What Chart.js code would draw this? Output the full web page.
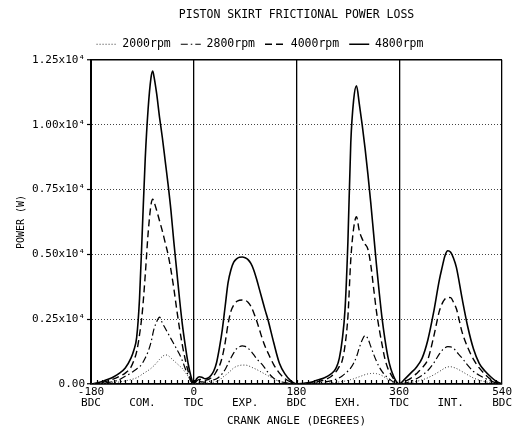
<!DOCTYPE html>
<html>
<head>
<meta charset="utf-8">
<script src="https://cdn.jsdelivr.net/npm/chart.js@4.4.1/dist/chart.umd.min.js"></script>
<style>
  body { margin: 0; background: #fff; }
  canvas { display: block; }
</style>
</head>
<body>
<canvas id="frictionChart" width="515" height="430"></canvas>
<script>
// crank angle (deg) and skirt power loss (W) per engine speed
const angles = [
  -180, -170, -160, -150, -140, -130, -120, -110, -105, -100, -95, -90, -85, -80, -75, -72, -70, -65, -60, -55, -50, -45, -40, -35, -30, -25, -20, -15, -10, -5,
  0, 5, 10, 15, 20, 25, 30, 35, 40, 45, 50, 55, 60, 65, 70, 75, 80, 85, 90, 95, 100, 105, 110, 115, 120, 125, 130, 140, 150, 160, 170,
  180, 190, 200, 210, 220, 230, 240, 245, 250, 255, 260, 265, 270, 275, 280, 285, 290, 295, 300, 305, 310, 315, 320, 325, 330, 335, 340, 345, 350, 355,
  360, 370, 380, 390, 400, 410, 420, 430, 435, 440, 445, 450, 455, 460, 470, 480, 490, 500, 510, 520, 530, 540
];

const loss2000 = [
  0, 5, 15, 30, 50, 80, 120, 170, 200, 240, 300, 380, 450, 520, 600, 660, 700, 820, 950, 1060, 1120, 1100, 1000, 900, 800, 700, 600, 450, 300, 120,
  0, 30, 40, 35, 30, 40, 50, 70, 100, 150, 250, 330, 420, 520, 620, 680, 715, 730, 730, 710, 660, 610, 560, 500, 440, 380, 320, 200, 100, 45, 15,
  0, 2, 5, 10, 20, 30, 45, 55, 65, 80, 95, 115, 140, 170, 200, 240, 280, 320, 360, 390, 405, 410, 400, 370, 320, 250, 180, 110, 60, 20,
  0, 20, 50, 100, 160, 240, 350, 480, 550, 620, 660, 665, 640, 600, 480, 350, 230, 150, 90, 50, 20, 0
];

const loss2800 = [
  0, 10, 30, 60, 100, 170, 300, 420, 500, 580, 660, 800, 1000, 1250, 1600, 1900, 2100, 2400, 2580, 2350, 2150, 1950, 1750, 1550, 1350, 1150, 900, 600, 350, 100,
  0, 60, 90, 80, 70, 90, 120, 160, 200, 280, 400, 560, 780, 1000, 1200, 1360, 1440, 1470, 1450, 1380, 1270, 1130, 980, 860, 750, 600, 450, 220, 110, 50, 20,
  0, 5, 15, 30, 50, 80, 120, 150, 190, 240, 310, 400, 500, 620, 800, 1050, 1400, 1700, 1870, 1750, 1450, 1150, 880, 650, 480, 340, 240, 150, 80, 30,
  0, 40, 100, 200, 340, 520, 800, 1150, 1300, 1400, 1440, 1430, 1380, 1250, 1000, 720, 480, 340, 220, 120, 40, 0
];

const loss4000 = [
  0, 20, 60, 120, 200, 300, 420, 650, 900, 1250, 1900, 2800, 4200, 5800, 6900, 7130, 7050, 6700, 6300, 5900, 5450, 5000, 4400, 3700, 2900, 2150, 1500, 950, 500, 150,
  0, 120, 180, 160, 140, 170, 230, 320, 500, 700, 1050, 1600, 2300, 2800, 3050, 3180, 3230, 3240, 3230, 3150, 3000, 2750, 2450, 2100, 1750, 1450, 1200, 750, 420, 200, 70,
  0, 10, 30, 60, 100, 170, 280, 380, 500, 680, 900, 1500, 2600, 4800, 6000, 6450, 5900, 5600, 5400, 5200, 4600, 3700, 2800, 2100, 1500, 950, 600, 380, 200, 60,
  0, 100, 220, 400, 620, 950, 1800, 2800, 3100, 3280, 3340, 3330, 3150, 2900, 2000, 1400, 950, 620, 380, 180, 60, 0
];

const loss4800 = [
  0, 40, 100, 180, 280, 420, 620, 1000, 1300, 1800, 3300, 6000, 8700, 10600, 11800, 12075, 11900, 11200, 10300, 9500, 8600, 7700, 6700, 5500, 4400, 3300, 2300, 1500, 800, 300,
  0, 200, 280, 250, 200, 230, 330, 500, 830, 1400, 2100, 3000, 3900, 4400, 4700, 4830, 4890, 4900, 4870, 4800, 4650, 4400, 4050, 3650, 3250, 2850, 2480, 1600, 800, 380, 120,
  0, 20, 50, 100, 170, 250, 380, 480, 650, 1000, 1700, 2900, 5500, 9300, 10950, 11500, 10800, 10000, 9100, 8100, 7000, 5800, 4600, 3500, 2500, 1700, 1050, 600, 300, 90,
  0, 200, 420, 650, 1000, 1700, 2750, 4000, 4500, 4950, 5140, 5080, 4850, 4500, 3300, 2200, 1350, 800, 500, 280, 100, 0
];

const seriesNames = ['2000rpm', '2800rpm', '4000rpm', '4800rpm'];

const tickAngles = [-180, -90, 0, 90, 180, 270, 360, 450, 540];
const tickNumbers = ['-180', '', '0', '', '180', '', '360', '', '540'];
const tickNames = ['BDC', 'COM.', 'TDC', 'EXP.', 'BDC', 'EXH.', 'TDC', 'INT.', 'BDC'];
const strokeLines = [0, 180, 360, 540];

const chartTitle = 'PISTON SKIRT FRICTIONAL POWER LOSS';
const minorStep = 10;
const yMax = 12500;

const FONT = '"DejaVu Sans Mono", monospace';

function toPoints(values) {
    return angles.map((a, i) => ({ x: a, y: values[i] }));
}

const titlePlugin = {
    id: 'plotTitle',
    afterDraw(chart) {
        const { ctx, chartArea } = chart;
        ctx.save();
        ctx.font = '11.5px ' + FONT;
        ctx.fillStyle = '#000';
        ctx.textAlign = 'center';
        ctx.textBaseline = 'middle';
        ctx.fillText(chartTitle, (chartArea.left + chartArea.right) / 2, 15);
        ctx.restore();
    }
};

// small inward ticks along the zero line
const minorTicks = {
    id: 'minorTicks',
    afterDatasetsDraw(chart) {
        const { ctx, chartArea } = chart;
        const xs = chart.scales.x;
        ctx.save();
        ctx.strokeStyle = '#000';
        ctx.lineWidth = 1.2;
        ctx.beginPath();
        for (let a = xs.min + minorStep; a < xs.max; a += minorStep) {
            const px = Math.round(xs.getPixelForValue(a)) + 0.5;
            ctx.moveTo(px, chartArea.bottom);
            ctx.lineTo(px, chartArea.bottom - 4);
        }
        ctx.stroke();
        ctx.restore();
    }
};

const ctx = document.getElementById('frictionChart').getContext('2d');
new Chart(ctx, {
    type: 'line',
    data: {
        datasets: [
            {
                label: seriesNames[0],
                data: toPoints(loss2000),
                borderColor: '#333',
                borderWidth: 1,
                borderDash: [1, 2]
            },
            {
                label: seriesNames[1],
                data: toPoints(loss2800),
                borderColor: '#000',
                borderWidth: 1.2,
                borderDash: [7, 3, 1.5, 3]
            },
            {
                label: seriesNames[2],
                data: toPoints(loss4000),
                borderColor: '#000',
                borderWidth: 1.4,
                borderDash: [7, 4]
            },
            {
                label: seriesNames[3],
                data: toPoints(loss4800),
                borderColor: '#000',
                borderWidth: 1.6
            }
        ]
    },
    options: {
        responsive: false,
        animation: false,
        layout: { padding: { left: 15, right: 10, top: 28.5, bottom: 0 } },
        elements: {
            point: { radius: 0 },
            line: { cubicInterpolationMode: 'monotone', fill: false }
        },
        plugins: {
            title: { display: false },
            tooltip: { enabled: false },
            legend: {
                position: 'top',
                labels: {
                    usePointStyle: true,
                    pointStyle: 'line',
                    pointStyleWidth: 20,
                    padding: 10,
                    color: '#000',
                    font: { family: FONT, size: 11.5 },
                    generateLabels: (chart) => Chart.defaults.plugins.legend.labels.generateLabels(chart).map((item) => {
                        const ds = chart.data.datasets[item.datasetIndex];
                        item.lineDash = ds.borderDash || [];
                        item.lineWidth = ds.borderWidth;
                        item.strokeStyle = ds.borderColor;
                        return item;
                    })
                }
            }
        },
        scales: {
            x: {
                type: 'linear',
                min: -180,
                max: 540,
                afterBuildTicks: (scale) => {
                    scale.ticks = tickAngles.map(v => ({ value: v }));
                },
                afterFit: (scale) => { scale.height = 46; },
                ticks: {
                    autoSkip: false,
                    maxRotation: 0,
                    padding: 3,
                    color: '#000',
                    font: { family: FONT, size: 11, lineHeight: 0.95 },
                    callback: (v, i) => [tickNumbers[i], tickNames[i]]
                },
                grid: {
                    drawTicks: false,
                    color: (c) => (c.tick && strokeLines.includes(c.tick.value)) ? '#000' : 'rgba(0,0,0,0)',
                    lineWidth: 1.3
                },
                border: { color: '#000', width: 1.5 },
                title: {
                    display: true,
                    text: 'CRANK ANGLE (DEGREES)',
                    color: '#000',
                    font: { family: FONT, size: 11 },
                    padding: { top: 0, bottom: 2 }
                }
            },
            y: {
                min: 0,
                max: yMax,
                afterFit: (scale) => { scale.width = 76; },
                ticks: {
                    stepSize: 2500,
                    padding: 2,
                    color: '#000',
                    font: { family: FONT, size: 11 },
                    callback: (v) => v === 0 ? '0.00' : (v / 10000).toFixed(2) + 'x10\u2074'
                },
                grid: {
                    tickLength: 4,
                    tickColor: '#000',
                    tickWidth: 1.2,
                    color: (c) => (c.tick && c.tick.value > 0 && c.tick.value < yMax) ? '#444' : '#000',
                    lineWidth: (c) => (c.tick && c.tick.value > 0 && c.tick.value < yMax) ? 1 : 1.5
                },
                border: {
                    color: '#000',
                    width: 2,
                    dash: (c) => (c.tick && c.tick.value > 0 && c.tick.value < yMax) ? [1, 2] : []
                },
                title: {
                    display: true,
                    text: 'POWER (W)',
                    color: '#000',
                    font: { family: FONT, size: 10 },
                    padding: { top: 0, bottom: 0 }
                }
            }
        }
    },
    plugins: [titlePlugin, minorTicks]
});
</script>
</body>
</html>
